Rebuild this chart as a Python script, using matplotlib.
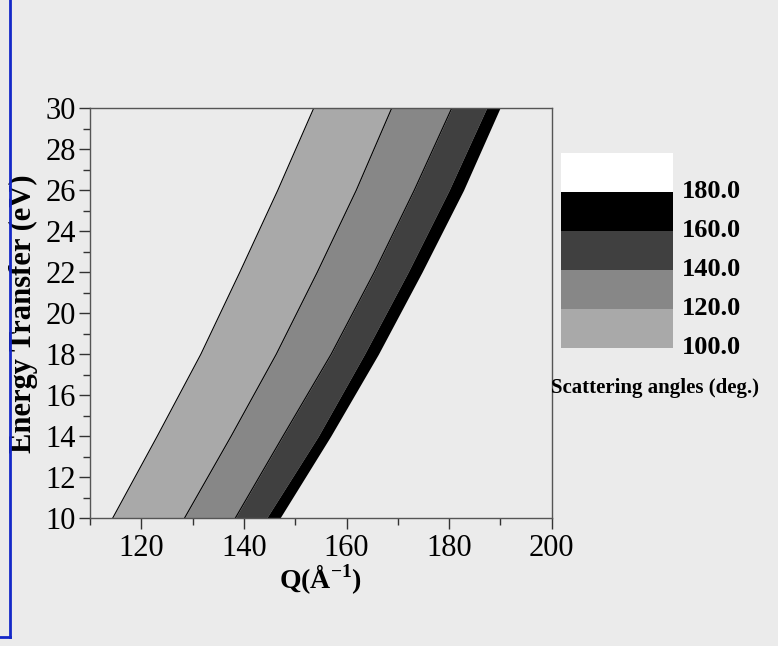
import numpy as np
import matplotlib.pyplot as plt
from matplotlib.patches import Rectangle
from matplotlib.lines import Line2D
from matplotlib.ticker import MultipleLocator

plt.rcParams['font.family'] = ['Liberation Serif', 'DejaVu Serif']
plt.rcParams['mathtext.fontset'] = 'custom'
plt.rcParams['mathtext.rm'] = 'Liberation Serif'
plt.rcParams['mathtext.bf'] = 'Liberation Serif:bold'

# energy transfer (eV) where the iso-angle lines were sampled
energy = [10, 14, 18, 22, 26, 30]

# Q (1/A) along each constant scattering-angle line
q_100 = [114.4, 123.1, 131.6, 139.2, 146.6, 153.6]
q_120 = [128.4, 137.5, 146.3, 154.3, 161.9, 168.8]
q_140 = [138.3, 147.6, 157.0, 165.4, 173.2, 180.5]
q_160 = [144.4, 154.5, 163.5, 172.0, 180.0, 187.3]
q_180 = [147.0, 156.9, 166.2, 174.7, 182.8, 189.9]

levels = [100.0, 120.0, 140.0, 160.0, 180.0]
band_colors = ['#a9a9a9', '#878787', '#404040', '#000000']

bg = '#ebebeb'
fig = plt.figure(figsize=(7.78, 6.46), dpi=100, facecolor=bg)
ax = fig.add_axes([90 / 778, 1 - 518.3 / 646, 461.7 / 778, 410 / 646])
ax.set_facecolor(bg)

edges = [q_100, q_120, q_140, q_160, q_180]
for lo, hi, c in zip(edges[:-1], edges[1:], band_colors):
    ax.fill_betweenx(energy, lo, hi, color=c, lw=0)
for q in [q_100, q_120, q_140]:
    ax.plot(q, energy, color='black', lw=0.8)

ax.set_xlim(110, 200)
ax.set_ylim(10, 30)
ax.xaxis.set_major_locator(MultipleLocator(20))
ax.xaxis.set_minor_locator(MultipleLocator(10))
ax.yaxis.set_major_locator(MultipleLocator(2))
ax.yaxis.set_minor_locator(MultipleLocator(1))
ax.set_xticks([120, 140, 160, 180, 200])
ax.tick_params(which='both', direction='out', top=False, right=False,
               color='#333333', width=1.0)
ax.tick_params(which='major', length=8, labelsize=22, pad=3)
ax.tick_params(axis='y', which='major', pad=2)
ax.tick_params(which='minor', length=5)
for s in ax.spines.values():
    s.set_color('#555555')
    s.set_linewidth(1.0)

ax.set_xlabel('Q(Å$^{\\mathbf{-1}}$)', fontsize=20, fontweight='bold', labelpad=0)
ax.set_ylabel('Energy Transfer (eV)', fontsize=22, fontweight='bold', va='center')
ax.yaxis.set_label_coords(-67 / 461.7, 0.5)

# angle scale
lax = fig.add_axes([561 / 778, 1 - 347.7 / 646, 111.7 / 778, 195 / 646])
lax.set_xlim(0, 1)
lax.set_ylim(0, 5)
lax.axis('off')
for i, c in enumerate(band_colors + ['#ffffff']):
    lax.add_patch(Rectangle((0, i), 1, 1, color=c, lw=0))
for i, lev in enumerate(levels):
    lax.text(1.08, i, f'{lev:.1f}', fontsize=19, fontweight='bold',
             va='center', ha='left', clip_on=False)
fig.text(551 / 778, 1 - 388 / 646, 'Scattering angles (deg.)', fontsize=15,
         fontweight='bold', va='center', ha='left')

# frame edge at the left
fig.add_artist(Line2D([10 / 778, 10 / 778], [1 - 637 / 646, 1.0],
                      color='#1428c8', lw=2))
fig.add_artist(Line2D([0, 10 / 778], [1 - 637 / 646, 1 - 637 / 646],
                      color='#1428c8', lw=2))

fig.savefig('out.png', dpi=100, facecolor=bg)
